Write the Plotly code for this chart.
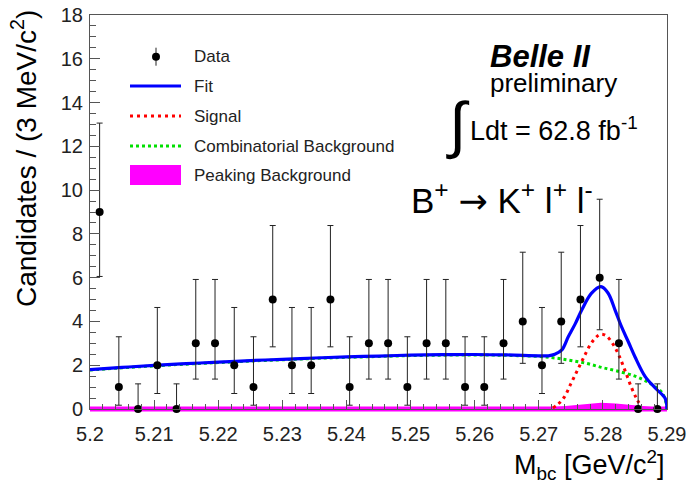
import plotly.graph_objects as go

# ---------------- data ----------------
bin_centers = [5.2015, 5.2045, 5.2075, 5.2105, 5.2135, 5.2165, 5.2195, 5.2225, 5.2255, 5.2285,
               5.2315, 5.2345, 5.2375, 5.2405, 5.2435, 5.2465, 5.2495, 5.2525, 5.2555, 5.2585,
               5.2615, 5.2645, 5.2675, 5.2705, 5.2735, 5.2765, 5.2795, 5.2825, 5.2855, 5.2885]
counts = [9, 1, 0, 2, 0, 3, 3, 2, 1, 5, 2, 2, 5, 1, 3, 3, 1, 3, 3, 1, 1, 3, 4, 2, 4, 5, 6, 3, 0, 0]

# Poisson (68%) interval bounds per count, as drawn on the plot
poisson_low = {0: 0.0, 1: 0.173, 2: 0.708, 3: 1.367, 4: 2.086, 5: 2.840, 6: 3.620, 9: 6.055}
poisson_high = {0: 1.148, 1: 3.300, 2: 4.638, 3: 5.918, 4: 7.163, 5: 8.382, 6: 9.584, 9: 13.062}

fit_x = [5.200, 5.205, 5.210, 5.215, 5.220, 5.225, 5.230, 5.235, 5.240, 5.245, 5.250, 5.255, 5.260,
         5.265, 5.270, 5.2715, 5.2725, 5.2736, 5.2746, 5.2757, 5.2767, 5.2782, 5.2797, 5.2808,
         5.2819, 5.2829, 5.2840, 5.2850, 5.2866, 5.2882, 5.2897, 5.2900]
fit_y = [1.80, 1.90, 1.99, 2.07, 2.14, 2.21, 2.27, 2.33, 2.38, 2.42, 2.46, 2.48, 2.49,
         2.47, 2.43, 2.43, 2.50, 2.70, 3.30, 3.90, 4.52, 5.28, 5.59, 5.30,
         4.52, 3.76, 3.05, 2.39, 1.48, 0.95, 0.49, 0.00]

comb_x = [5.200, 5.205, 5.210, 5.215, 5.220, 5.225, 5.230, 5.235, 5.240, 5.245, 5.250, 5.255, 5.260,
          5.265, 5.270, 5.2725, 5.275, 5.2775, 5.2798, 5.282, 5.285, 5.2871, 5.2885, 5.2892, 5.2897, 5.2900]
comb_y = [1.78, 1.88, 1.97, 2.05, 2.12, 2.19, 2.25, 2.31, 2.36, 2.40, 2.44, 2.46, 2.47,
          2.45, 2.40, 2.33, 2.22, 2.08, 1.90, 1.75, 1.50, 1.22, 0.95, 0.76, 0.45, 0.00]

sig_x = [5.2722, 5.2730, 5.2740, 5.2750, 5.2760, 5.2770, 5.2780, 5.2790, 5.2797, 5.2805,
         5.2815, 5.2825, 5.2835, 5.2845, 5.2853, 5.2860]
sig_y = [0.05, 0.22, 0.55, 1.15, 1.75, 2.35, 2.92, 3.30, 3.42, 3.35,
         3.00, 2.45, 1.72, 0.95, 0.45, 0.12]

peak_x = [5.200, 5.260, 5.270, 5.2725, 5.275, 5.2775, 5.2797, 5.282, 5.2845, 5.287, 5.289, 5.290]
peak_y = [0.0, 0.0, 0.01, 0.04, 0.10, 0.18, 0.24, 0.20, 0.12, 0.05, 0.01, 0.0]

x_tick_vals = [5.20, 5.21, 5.22, 5.23, 5.24, 5.25, 5.26, 5.27, 5.28, 5.29]
x_tick_text = ["5.2", "5.21", "5.22", "5.23", "5.24", "5.25", "5.26", "5.27", "5.28", "5.29"]
y_tick_vals = [0, 2, 4, 6, 8, 10, 12, 14, 16, 18]

legend_labels = ["Data", "Fit", "Signal", "Combinatorial Background", "Peaking Background"]

# ---------------- figure ----------------
W, H = 691, 485
L, R, T, B = 90, 24, 15, 76
PW, PH = W - L - R, H - T - B


def px(xp):
    return (xp - L) / PW


def py(yp):
    return (H - B - yp) / PH


FONT = "Liberation Sans, Arial, Helvetica, sans-serif"
BLUE = "#0000ff"
RED = "#ff0000"
GREEN = "#00e000"
MAGENTA = "#ff00ff"

err_plus = [poisson_high[n] - n for n in counts]
err_minus = [n - poisson_low[n] for n in counts]

fig = go.Figure()

fig.add_trace(go.Scatter(x=peak_x, y=peak_y, mode="lines", fill="tozeroy",
                         line=dict(color=MAGENTA, width=2), fillcolor=MAGENTA,
                         name="Peaking Background", showlegend=False))
fig.add_trace(go.Scatter(x=comb_x, y=comb_y, mode="lines", line_shape="spline",
                         line=dict(color=GREEN, width=3, dash="3px,3px"),
                         name="Combinatorial Background", showlegend=False))
fig.add_trace(go.Scatter(x=sig_x, y=sig_y, mode="lines", line_shape="spline",
                         line=dict(color=RED, width=3, dash="3px,4px"),
                         name="Signal", showlegend=False))
fig.add_trace(go.Scatter(x=fit_x, y=fit_y, mode="lines", line_shape="spline",
                         line=dict(color=BLUE, width=3.2),
                         name="Fit", showlegend=False))
fig.add_trace(go.Scatter(x=bin_centers, y=counts, mode="markers",
                         marker=dict(color="black", size=8),
                         error_y=dict(type="data", symmetric=False, array=err_plus,
                                      arrayminus=err_minus, color="#222222",
                                      thickness=1, width=3),
                         cliponaxis=False, name="Data", showlegend=False))

shapes = []
# magenta baseline of the peaking component along the x axis
shapes.append(dict(type="line", xref="paper", yref="paper", x0=0, x1=1, y0=0, y1=0,
                   line=dict(color=MAGENTA, width=5), layer="below"))

# legend (drawn manually, ROOT style)
lx0, lx1, lxm = px(130), px(181), px(156)
row_y = [56.7, 86, 116, 146, 175]
shapes.append(dict(type="line", xref="paper", yref="paper", x0=lxm, x1=lxm,
                   y0=py(row_y[0] - 9), y1=py(row_y[0] + 9), line=dict(color="#222", width=1)))
shapes.append(dict(type="circle", xref="paper", yref="paper",
                   x0=px(152), x1=px(160), y0=py(row_y[0] - 4), y1=py(row_y[0] + 4),
                   fillcolor="black", line=dict(color="black", width=0)))
shapes.append(dict(type="line", xref="paper", yref="paper", x0=lx0, x1=lx1,
                   y0=py(row_y[1]), y1=py(row_y[1]), line=dict(color=BLUE, width=3)))
shapes.append(dict(type="line", xref="paper", yref="paper", x0=lx0, x1=lx1,
                   y0=py(row_y[2]), y1=py(row_y[2]), line=dict(color=RED, width=3, dash="3px,4px")))
shapes.append(dict(type="line", xref="paper", yref="paper", x0=lx0, x1=lx1,
                   y0=py(row_y[3]), y1=py(row_y[3]), line=dict(color=GREEN, width=3, dash="3px,3px")))
shapes.append(dict(type="rect", xref="paper", yref="paper", x0=lx0, x1=lx1,
                   y0=py(185), y1=py(165), fillcolor=MAGENTA, line=dict(width=0)))

annotations = []
for lab, yy in zip(legend_labels, row_y):
    annotations.append(dict(text=lab, xref="paper", yref="paper", x=px(192), y=py(yy),
                            xanchor="left", yanchor="middle", showarrow=False,
                            font=dict(family=FONT, size=17, color="#222")))

annotations += [
    dict(text="<b><i>Belle II</i></b>", xref="paper", yref="paper", x=px(540), y=py(56),
         xanchor="center", yanchor="middle", showarrow=False,
         font=dict(family=FONT, size=31, color="black")),
    dict(text="preliminary", xref="paper", yref="paper", x=px(553), y=py(83),
         xanchor="center", yanchor="middle", showarrow=False,
         font=dict(family=FONT, size=26, color="black")),
    dict(text="\u222b", xref="paper", yref="paper", x=px(458), y=py(125),
         xanchor="center", yanchor="middle", showarrow=False,
         font=dict(family=FONT, size=62, color="black")),
    dict(text="Ldt = 62.8 fb<sup>-1</sup>", xref="paper", yref="paper", x=px(468), y=py(129),
         xanchor="left", yanchor="middle", showarrow=False,
         font=dict(family=FONT, size=27, color="black")),
    dict(text="B<sup>+</sup> <span style=\"font-family:'DejaVu Sans'\">\u2192</span> K<sup>+</sup> l<sup>+</sup> l<sup>-</sup>",
         xref="paper", yref="paper",
         x=px(409), y=py(198), xanchor="left", yanchor="middle", showarrow=False,
         font=dict(family=FONT, size=35, color="black")),
    dict(text="Candidates / (3 MeV/c<sup>2</sup>)", xref="paper", yref="paper",
         x=px(24), y=py(159), xanchor="center", yanchor="middle", textangle=-90,
         showarrow=False, font=dict(family=FONT, size=28, color="black")),
    dict(text="M<sub>bc</sub> [GeV/c<sup>2</sup>]", xref="paper", yref="paper",
         x=1.0, y=py(465), xanchor="right", yanchor="middle", showarrow=False,
         font=dict(family=FONT, size=27, color="black")),
]

AX = "#555555"
fig.update_layout(
    width=W, height=H,
    margin=dict(l=L, r=R, t=T, b=B, pad=0, autoexpand=False),
    paper_bgcolor="white", plot_bgcolor="white",
    showlegend=False,
    shapes=shapes,
    annotations=annotations,
    xaxis=dict(range=[5.2, 5.29], tickvals=x_tick_vals, ticktext=x_tick_text,
               ticks="inside", ticklen=9, tickwidth=1, tickcolor=AX, automargin=False,
               ticklabelstandoff=7,
               minor=dict(ticks="inside", ticklen=5, dtick=0.002, tick0=5.2, tickcolor=AX, tickwidth=1),
               showline=True, linecolor=AX, linewidth=1, mirror=True,
               showgrid=False, zeroline=False,
               tickfont=dict(family=FONT, size=20, color="#222")),
    yaxis=dict(range=[0, 18], tickvals=y_tick_vals,
               ticks="inside", ticklen=10, tickwidth=1, tickcolor=AX, automargin=False,
               ticklabelstandoff=2,
               minor=dict(ticks="inside", ticklen=6, dtick=0.5, tickcolor=AX, tickwidth=1),
               showline=True, linecolor=AX, linewidth=1, mirror=True,
               showgrid=False, zeroline=False,
               tickfont=dict(family=FONT, size=20, color="#222")),
)

fig.write_html("out.html", config={"displayModeBar": False},
               post_script="document.body.style.margin='0';document.body.style.overflow='hidden';")
